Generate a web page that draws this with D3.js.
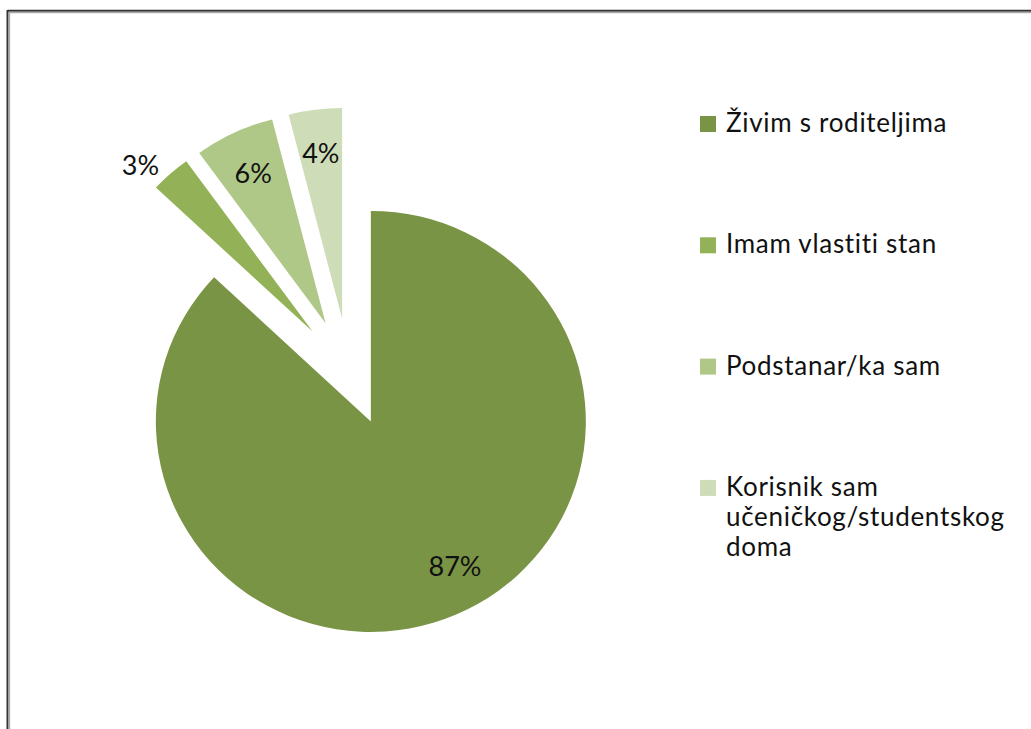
<!DOCTYPE html>
<html>
<head>
<meta charset="utf-8">
<script src="https://cdn.jsdelivr.net/npm/d3@7"></script>
<style>
  body { margin: 0; background: #fff; }
  svg text { font-family: Lato, "Open Sans", sans-serif; fill: #111; }
</style>
</head>
<body>
<div id="chart"></div>
<script>
// data
var categories = ["Živim s roditeljima", "Imam vlastiti stan", "Podstanar/ka sam", "Korisnik sam učeničkog/studentskog doma"];
var values = [87, 3, 6, 4];
var valueLabels = ["87%", "3%", "6%", "4%"];
var legendLines = [["Živim s roditeljima"], ["Imam vlastiti stan"], ["Podstanar/ka sam"], ["Korisnik sam", "učeničkog/studentskog", "doma"]];
var colours = ["#7a9445", "#93b257", "#afc888", "#cedcb7"];

var width = 1031, height = 729;

var svg = d3.select("#chart")
            .append("svg")
              .attr("width", width)
              .attr("height", height);

// frame (top + left edge of the chart box)
svg.append("line").attr("x1", 7.5).attr("x2", width).attr("y1", 10.8).attr("y2", 10.8)
   .attr("stroke", "#333").attr("stroke-width", 2);
svg.append("line").attr("x1", 9).attr("x2", width).attr("y1", 12.6).attr("y2", 12.6)
   .attr("stroke", "#aaa").attr("stroke-width", 1.5);
svg.append("line").attr("x1", 7.5).attr("x2", 7.5).attr("y1", 10).attr("y2", height)
   .attr("stroke", "#333").attr("stroke-width", 2);
svg.append("line").attr("x1", 9.4).attr("x2", 9.4).attr("y1", 12).attr("y2", height)
   .attr("stroke", "#aaa").attr("stroke-width", 1.5);

// pie
var cx = 349, cy = 372;
var radius = 215;
var sy = 0.979;       // picture is slightly squashed vertically
var explode = 55;

var pie = d3.pie().sort(null).value(function(d) { return d; });
var arcs = pie(values);

var arc = d3.arc().innerRadius(0).outerRadius(radius);

// point at distance dist along the slice's middle direction
function offset(d, dist, turn) {
  var a = (d.startAngle + d.endAngle) / 2 + (turn || 0);
  return [Math.sin(a) * dist, -Math.cos(a) * dist];
}

var pieG = svg.append("g")
              .attr("transform", "translate(" + cx + "," + cy + ") scale(1," + sy + ")");

pieG.selectAll("path")
    .data(arcs)
    .enter()
   .append("path")
    .attr("fill", function(d, i) { return colours[i]; })
    .attr("transform", function(d) {
      var o = offset(d, explode);
      return "translate(" + o[0] + "," + o[1] + ")";
    })
    .attr("d", arc);

// value labels - thin slices get their label outside
function isSmall(d) {
  return (d.endAngle - d.startAngle) < 0.2;
}

svg.selectAll(".value-label")
    .data(arcs)
    .enter()
   .append("text")
    .attr("class", "value-label")
    .attr("text-anchor", function(d) { return isSmall(d) ? "end" : "middle"; })
    .attr("dy", function(d) { return isSmall(d) ? "0.5em" : "0.36em"; })
    .style("font-size", "27px")
    .attr("transform", function(d) {
      var o = offset(d, explode);
      // the big slice's label sits a little off its bisector, as in the original
      var p = isSmall(d) ? offset(d, radius * 1.08) : offset(d, radius * 0.79, d.value > 50 ? -0.11 : 0);
      var x = cx + o[0] + p[0];
      var y = cy + (o[1] + p[1]) * sy;
      return "translate(" + x + "," + y + ")";
    })
    .text(function(d, i) { return valueLabels[i]; });

// legend
var legendX = 700, legendY = 132, legendStep = 121.3, lineStep = 30;
var legend = svg.append("g").attr("class", "legend");

var items = legend.selectAll(".legend-item")
                  .data(categories)
                  .enter()
                 .append("g")
                  .attr("class", "legend-item")
                  .attr("transform", function(d, i) {
                    return "translate(" + legendX + "," + (legendY + legendStep * i) + ")";
                  });

items.append("rect")
      .attr("x", 0)
      .attr("y", -16)
      .attr("width", 16)
      .attr("height", 16)
      .attr("fill", function(d, i) { return colours[i]; });

items.append("text")
      .attr("x", 26)
      .style("font-size", "26px")
      .style("letter-spacing", "0.7px")
      .selectAll("tspan")
      .data(function(d, i) { return legendLines[i]; })
      .enter()
     .append("tspan")
      .attr("x", 26)
      .attr("dy", function(d, j) { return j === 0 ? 0 : lineStep; })
      .text(function(d) { return d; });
</script>
</body>
</html>
